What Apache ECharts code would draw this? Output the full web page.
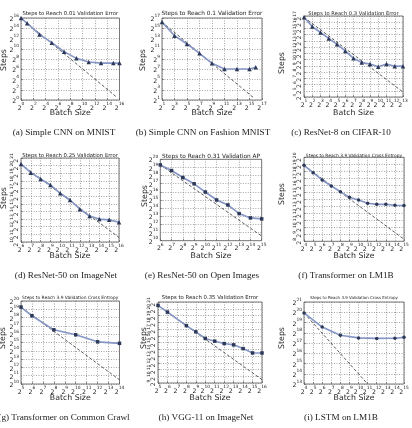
<!DOCTYPE html>
<html><head><meta charset="utf-8">
<script src="https://cdn.jsdelivr.net/npm/echarts@6/dist/echarts.min.js"></script>
<style>html,body{margin:0;padding:0;background:#fff}#c{width:412px;height:428px}</style>
</head><body><div id="c"></div>
<script>
// ---- data (all values are log2 of batch size / steps) ----
const titles = [
  'Steps to Reach 0.01 Validation Error','Steps to Reach 0.1 Validation Error','Steps to Reach 0.3 Validation Error',
  'Steps to Reach 0.25 Validation Error','Steps to Reach 0.31 Validation AP','Steps to Reach 3.9 Validation Cross Entropy',
  'Steps to Reach 3.9 Validation Cross Entropy','Steps to Reach 0.35 Validation Error','Steps to Reach 3.9 Validation Cross Entropy'];
const captions = ['(a) Simple CNN on MNIST','(b) Simple CNN on Fashion MNIST','(c) ResNet-8 on CIFAR-10',
  '(d) ResNet-50 on ImageNet','(e) ResNet-50 on Open Images','(f) Transformer on LM1B',
  '(g) Transformer on Common Crawl','(h) VGG-11 on ImageNet','(i) LSTM on LM1B'];
const xAxisName = 'Batch Size';
const yAxisName = 'Steps';

const batchA = [0,1,3,5,7,9,11,13,15,16];
const stepsA = [16,14.97,12.8,11.18,9.43,8.13,7.4,7.2,7.2,7.2];
const idealBatchA = [0,15.5], idealStepsA = [16,0.6];

const batchB = [1,3,5,7,9,11,13,15,16];
const stepsB = [16.2,13.55,11.93,10.1,8.16,7.05,7.05,7.05,7.4];
const idealBatchB = [1,15.6], idealStepsB = [16.2,1.5];

const batchC = [1,2,3,4,5,6,7,8,9,10,11,12,13];
const stepsC = [16.8,15.3,14.35,13.4,12.45,11.4,10.2,9.55,9.3,8.85,9.3,8.95,8.95];
const idealBatchC = [1,13], idealStepsC = [16.8,4.8];

const batchD = [6,7,8,9,10,11,12,13,14,15,16];
const stepsD = [20.2,19.08,18.25,17.47,16.38,15.5,14.3,13.4,13.0,12.9,12.58];
const idealBatchD = [6,16], idealStepsD = [20.2,10.6];

const batchE = [6,7,8,9,10,11,12,13,14,15];
const stepsE = [19.31,18.62,17.76,16.99,15.98,15.0,14.39,13.33,12.8,12.68];
const idealBatchE = [6,15], idealStepsE = [19.31,10.57];

const batchF = [4,5,6,7,8,9,10,11,12,13,14,15];
const stepsF = [18.86,17.8,16.76,15.9,15.09,14.28,13.9,13.43,13.28,13.28,13.14,13.1];
const idealBatchF = [4,15], idealStepsF = [18.86,8.3];

const batchG = [5,6,8,10,12,14];
const stepsG = [19.27,18.22,16.53,15.93,15.08,14.9];
const idealBatchG = [5,14], idealStepsG = [19.27,10.5];

const batchH = [5,6,8,9,10,11,12,13,14,15,16];
const stepsH = [20.5,19.5,17.5,16.58,15.6,15.2,14.84,14.65,14.1,13.45,13.45];
const idealBatchH = [5,16], idealStepsH = [20.5,9.5];

const batchI = [4,6,8,10,12,14,15];
const stepsI = [19.93,18.56,17.75,17.5,17.45,17.47,17.55];
const idealBatchI = [4,11], idealStepsI = [19.93,13];

// axis extents (exponents of 2): [min, max, step]
const xRanges = [[0,16,2],[1,17,2],[1,13,1],[6,16,1],[6,15,1],[4,15,1],[5,14,1],[5,16,1],[4,15,1]];
const yRanges = [[0,16,2],[1,17,2],[4,17,1],[10,21,1],[10,20,1],[8,20,1],[10,20,1],[9,21,1],[13,21,1]];

// ---- layout ----
const boxes = [[21,18,98.5,82],[162,18,100,82],[304,16,99,81],
               [21,158,98,84],[160.3,159.3,101.4,81.4],[304,157.3,100,84],
               [21,301,98.5,83],[158,302,104,81],[304,302,100,82]];
const rotY = [0,0,90,90,0,90,0,90,0];
const symbols = ['triangle','triangle','triangle','triangle','rect','circle','rect','rect','circle'];
const titleSize = [5.3,5.8,5.2,5.3,5.8,4.4,4.4,5.35,4.0];
const titleY = [13.5,13.5,13.3,155.7,156.7,155.7,298,298,298];
const stepsPos = [[4,60],[143,60],[282,63],[4,198],[145,196],[282,194],[3,338],[144,338],[282,338]];
const batchNameY = [113,113,113,256,256,256,398,398,398];
const captionPos = [[64,133],[203,133],[341,133],[66,276],[202,276],[346,276],[64,418],[206,418],[341,418]];

const batches = [batchA,batchB,batchC,batchD,batchE,batchF,batchG,batchH,batchI];
const steps = [stepsA,stepsB,stepsC,stepsD,stepsE,stepsF,stepsG,stepsH,stepsI];
const idealB = [idealBatchA,idealBatchB,idealBatchC,idealBatchD,idealBatchE,idealBatchF,idealBatchG,idealBatchH,idealBatchI];
const idealS = [idealStepsA,idealStepsB,idealStepsC,idealStepsD,idealStepsE,idealStepsF,idealStepsG,idealStepsH,idealStepsI];

const FONT = 'DejaVu Sans';
const rich = {
  b:{fontSize:6.2,fontFamily:FONT,color:'#222',lineHeight:9,verticalAlign:'bottom'},
  e:{fontSize:4.4,fontFamily:FONT,color:'#222',lineHeight:5,verticalAlign:'top'}
};
const pow2 = v => '{b|2}{e|' + Math.round(v) + '}';
const split = {show:true,lineStyle:{type:[1,1.5],color:'#808080',width:0.7}};

const grid=[],xAxis=[],yAxis=[],series=[],graphic=[];
for(let i=0;i<9;i++){
  const b=boxes[i];
  grid.push({left:b[0],top:b[1],width:b[2],height:b[3],show:true,borderColor:'#555',borderWidth:0.8,containLabel:false,outerBoundsMode:'none'});
  xAxis.push({gridIndex:i,type:'value',min:xRanges[i][0],max:xRanges[i][1],interval:xRanges[i][2],
    axisLine:{show:false},
    axisTick:{show:true,inside:true,length:2,lineStyle:{color:'#555',width:0.6}},
    splitLine:split,
    axisLabel:{formatter:pow2,rich:rich,margin:2,showMinLabel:true,showMaxLabel:true,hideOverlap:false}});
  yAxis.push({gridIndex:i,type:'value',min:yRanges[i][0],max:yRanges[i][1],interval:yRanges[i][2],
    axisLine:{show:false},
    axisTick:{show:true,inside:true,length:2,lineStyle:{color:'#555',width:0.6}},
    splitLine:split,
    axisLabel:{formatter:pow2,rich:rich,margin:2,rotate:rotY[i],showMinLabel:true,showMaxLabel:true,hideOverlap:false}});
  series.push({type:'line',xAxisIndex:i,yAxisIndex:i,z:2,silent:true,symbol:'none',
    data:idealB[i].map((x,k)=>[x,idealS[i][k]]),
    lineStyle:{color:'#333',width:0.8,type:[3,2]}});
  series.push({type:'line',xAxisIndex:i,yAxisIndex:i,z:3,silent:true,
    symbol:symbols[i],symbolSize:symbols[i]==='triangle'?4.5:3.5,
    data:batches[i].map((x,k)=>[x,steps[i][k]]),
    lineStyle:{color:'#8596c6',width:1.6},itemStyle:{color:'#2c3858'}});
  graphic.push({type:'text',x:b[0]+b[2]/2,y:titleY[i],silent:true,
    style:{text:titles[i],fontSize:titleSize[i],fontFamily:FONT,fill:'#222',align:'center',verticalAlign:'middle'}});
  graphic.push({type:'text',x:stepsPos[i][0],y:stepsPos[i][1],rotation:Math.PI/2,silent:true,
    style:{text:yAxisName,fontSize:7.8,fontFamily:FONT,fill:'#222',align:'center',verticalAlign:'middle'}});
  graphic.push({type:'text',x:b[0]+b[2]/2,y:batchNameY[i],silent:true,
    style:{text:xAxisName,fontSize:7.8,fontFamily:FONT,fill:'#222',align:'center',verticalAlign:'middle'}});
  graphic.push({type:'text',x:captionPos[i][0],y:captionPos[i][1],silent:true,
    style:{text:captions[i],fontSize:9.2,fontFamily:'Liberation Serif',fill:'#222',align:'center',verticalAlign:'middle'}});
}
const chart = echarts.init(document.getElementById('c'),null,{renderer:'canvas'});
chart.setOption({animation:false,backgroundColor:'#fff',grid,xAxis,yAxis,series,graphic});

// keep every tick label visible (matplotlib shows all of them, even when crowded)
function showAllTickLabels(el){
  if(el.type==='text' && el.style && el.style.rich){ el.ignore=false; el.invisible=false; el.markRedraw && el.markRedraw(); }
  if(el.childrenRef){ el.childrenRef().forEach(showAllTickLabels); }
}
const zr = chart.getZr();
zr.storage.getRoots().forEach(showAllTickLabels);
zr.refreshImmediately();
</script></body></html>
